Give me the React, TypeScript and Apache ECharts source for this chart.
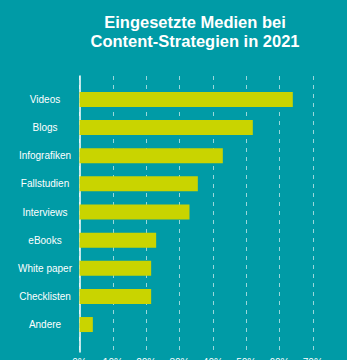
import React, { useEffect, useRef } from "react";
import * as echarts from "echarts";

const categories = ["Videos", "Blogs", "Infografiken", "Fallstudien", "Interviews", "eBooks", "White paper", "Checklisten", "Andere"];
const values = [64, 52, 43, 35.5, 33, 23, 21.5, 21.5, 4];
const titleLines = ["Eingesetzte Medien bei", "Content-Strategien in 2021"];

const BG = "#009ba6";
const BAR = "#c9d400";
const FONT = "'Liberation Sans', Arial, Helvetica, sans-serif";

export default function App() {
  const ref = useRef<HTMLDivElement>(null);
  useEffect(() => {
    if (!ref.current) return;
    const chart = echarts.init(ref.current, undefined, { renderer: "svg" });
    const left = 79.5;
    const width = 233.3;
    chart.setOption({
      animation: false,
      backgroundColor: BG,
      title: {
        text: titleLines.join("\n"),
        left: 190,
        top: 7,
        textAlign: "center",
        textStyle: { color: "#ffffff", fontSize: 16.5, fontWeight: "bold", fontFamily: FONT, lineHeight: 19 },
      },
      grid: [
        { left, width, top: 85.4, height: 253.2, outerBoundsMode: "none", containLabel: false },
        { left, width, top: 76, height: 276, outerBoundsMode: "none", containLabel: false },
      ],
      xAxis: [
        { type: "value", gridIndex: 0, min: 0, max: 70, interval: 10, show: false },
        {
          type: "value", gridIndex: 1, min: 0, max: 70, interval: 10,
          axisLine: { show: false }, axisTick: { show: false },
          splitLine: { show: true, lineStyle: { color: "rgba(255,255,255,0.6)", type: [4, 5], width: 1 } },
          axisLabel: { color: "#ffffff", fontSize: 10, fontFamily: FONT, margin: 5, formatter: "{value}%" },
        },
      ],
      yAxis: [
        {
          type: "category", gridIndex: 0, data: categories, inverse: true,
          axisLine: { show: false }, axisTick: { show: false },
          axisLabel: { color: "#ffffff", fontSize: 10, fontFamily: FONT, align: "center", margin: 34.5 },
        },
        {
          type: "value", gridIndex: 1, min: 0, max: 1,
          axisLine: { show: true, lineStyle: { color: "#ffffff", width: 1.5 } },
          axisTick: { show: false }, axisLabel: { show: false }, splitLine: { show: false },
        },
      ],
      series: [
        {
          type: "bar", xAxisIndex: 0, yAxisIndex: 0, data: values, barWidth: 15,
          itemStyle: { color: BAR }, z: 3,
        },
      ],
    });
    return () => chart.dispose();
  }, []);
  return <div ref={ref} style={{ position: "fixed", left: 0, top: 0, width: 347, height: 360 }} />;
}
